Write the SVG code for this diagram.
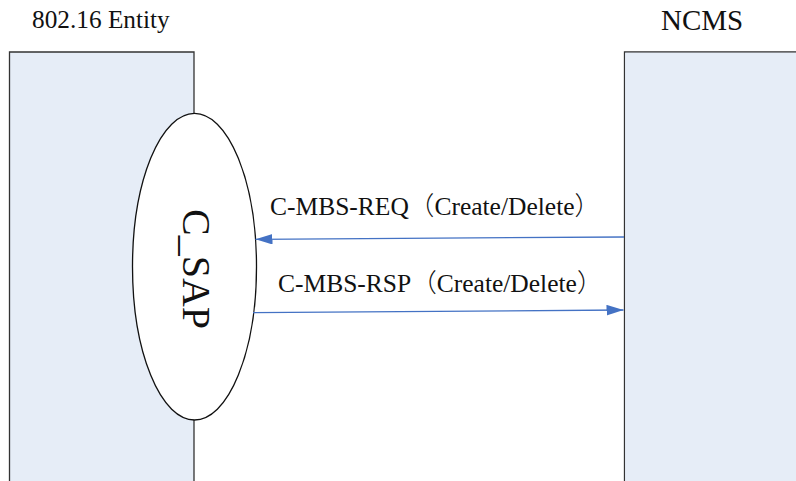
<svg xmlns="http://www.w3.org/2000/svg" width="796" height="481" viewBox="0 0 796 481">
  <style>
    .box { fill: #E6EDF7; stroke: #333333; stroke-width: 1.3; }
    .t { font-family: 'Liberation Serif', 'Times New Roman', serif; fill: #111111; }
    .cjk { font-family: 'Noto Sans CJK SC', sans-serif; font-weight: 300; }
    .conn { stroke: #4472C4; stroke-width: 1.3; fill: none; }
  </style>
  <defs>
    <marker id="arr" markerUnits="userSpaceOnUse" markerWidth="18" markerHeight="12" refX="17" refY="5.3" orient="auto">
      <path d="M0,0 L17,5.3 L0,10.6 Z" fill="#4472C4"/>
    </marker>
  </defs>
  <rect width="796" height="481" fill="#ffffff"/>

  <g id="entity">
    <path class="box" d="M9.5,490 L9.5,52 L194,52 L194,490"/>
    <text class="t" x="32" y="28" font-size="25.3">802.16 Entity</text>
  </g>

  <g id="ncms">
    <path class="box" d="M624.5,490 L624.5,52 L800,52"/>
    <rect x="625.2" y="52.7" width="175" height="440" fill="#E6EDF7"/>
    <text class="t" x="661" y="30" font-size="29">NCMS</text>
  </g>

  <g id="csap">
    <ellipse cx="194.5" cy="266.7" rx="62" ry="153.3" fill="#ffffff" stroke="#111111" stroke-width="1.3"/>
    <text class="t" font-size="40" transform="translate(183,209) rotate(90)">C_SAP</text>
  </g>

  <g id="connectors">
    <line class="conn" x1="624" y1="237" x2="255.5" y2="239.3" marker-end="url(#arr)"/>
    <line class="conn" x1="253" y1="312.7" x2="623.5" y2="310" marker-end="url(#arr)"/>
    <text class="t" x="270" y="215" font-size="25.5">C-MBS-REQ<tspan class="cjk">（</tspan>Create/Delete<tspan class="cjk">）</tspan></text>
    <text class="t" x="278" y="292" font-size="25.5">C-MBS-RSP<tspan class="cjk">（</tspan>Create/Delete<tspan class="cjk">）</tspan></text>
  </g>
</svg>
